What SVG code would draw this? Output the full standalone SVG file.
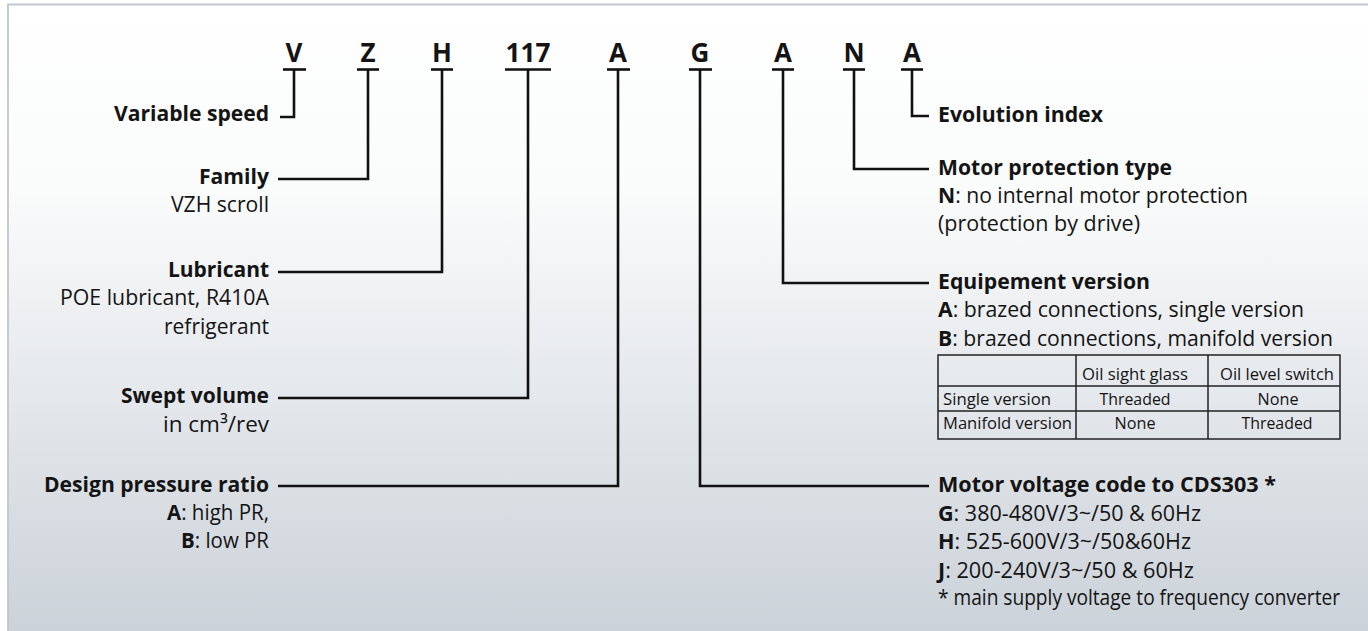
<svg xmlns="http://www.w3.org/2000/svg" width="1368" height="631" viewBox="0 0 1368 631">
<defs>
<linearGradient id="bg" x1="0" y1="0" x2="0" y2="1">
<stop offset="0" stop-color="#ffffff"/>
<stop offset="0.3" stop-color="#fafbfb"/>
<stop offset="0.62" stop-color="#e5e8ec"/>
<stop offset="1" stop-color="#cbd2d9"/>
</linearGradient>
<style>
text{font-family:"Open Sans","Noto Sans","Liberation Sans",sans-serif;fill:#141414}
.code{font-size:26px;font-weight:700;text-anchor:middle}
.lbl{font-size:22px;font-weight:700}
.txt{font-size:22px;font-weight:400}
.b{font-weight:700}
.tbl{font-size:17px;font-weight:400}
.r{text-anchor:end}
.m{text-anchor:middle}
.bar{stroke:#111;stroke-width:2.6}
.con{stroke:#111;stroke-width:2.6;fill:none}
.grid{stroke:#222;stroke-width:1.5;fill:none}
</style>
</defs>
<rect x="0" y="0" width="1368" height="631" fill="#ffffff"/>
<rect x="8" y="4" width="1360" height="627" fill="url(#bg)"/>
<path d="M8 631 V4.5 H1368" stroke="#c0c6ce" stroke-width="1.8" fill="none"/>

<g id="code-letters">
<g id="c-V"><text class="code" x="294" y="62">V</text><line class="bar" x1="283" y1="69.5" x2="306" y2="69.5"/></g>
<g id="c-Z"><text class="code" x="368" y="62">Z</text><line class="bar" x1="357" y1="69.5" x2="379" y2="69.5"/></g>
<g id="c-H"><text class="code" x="442" y="62">H</text><line class="bar" x1="431" y1="69.5" x2="453" y2="69.5"/></g>
<g id="c-117"><text class="code" x="528" y="62" textLength="45" lengthAdjust="spacingAndGlyphs">117</text><line class="bar" x1="505" y1="69.5" x2="551" y2="69.5"/></g>
<g id="c-A1"><text class="code" x="618" y="62">A</text><line class="bar" x1="607" y1="69.5" x2="630" y2="69.5"/></g>
<g id="c-G"><text class="code" x="700" y="62">G</text><line class="bar" x1="689" y1="69.5" x2="712" y2="69.5"/></g>
<g id="c-A2"><text class="code" x="783" y="62">A</text><line class="bar" x1="772" y1="69.5" x2="794" y2="69.5"/></g>
<g id="c-N"><text class="code" x="854" y="62">N</text><line class="bar" x1="843" y1="69.5" x2="865" y2="69.5"/></g>
<g id="c-A3"><text class="code" x="912" y="62">A</text><line class="bar" x1="901" y1="69.5" x2="923" y2="69.5"/></g>
</g>

<g id="connectors">
<path class="con" d="M294 69.5 V117 H280"/>
<path class="con" d="M368 69.5 V179 H278"/>
<path class="con" d="M442 69.5 V272 H278"/>
<path class="con" d="M528 69.5 V398 H278"/>
<path class="con" d="M618 69.5 V486 H278"/>
<path class="con" d="M912 69.5 V116 H929"/>
<path class="con" d="M854 69.5 V169 H929"/>
<path class="con" d="M783 69.5 V283 H929"/>
<path class="con" d="M700 69.5 V486 H929"/>
</g>

<g id="n-variable-speed">
<text class="lbl r" x="269" y="121" textLength="155" lengthAdjust="spacingAndGlyphs">Variable speed</text>
</g>
<g id="n-family">
<text class="lbl r" x="269" y="184" textLength="70" lengthAdjust="spacingAndGlyphs">Family</text>
<text class="txt r" x="269" y="212" textLength="98" lengthAdjust="spacingAndGlyphs">VZH scroll</text>
</g>
<g id="n-lubricant">
<text class="lbl r" x="269" y="277" textLength="101" lengthAdjust="spacingAndGlyphs">Lubricant</text>
<text class="txt r" x="269" y="305" textLength="209" lengthAdjust="spacingAndGlyphs">POE lubricant, R410A</text>
<text class="txt r" x="269" y="334" textLength="105" lengthAdjust="spacingAndGlyphs">refrigerant</text>
</g>
<g id="n-swept-volume">
<text class="lbl r" x="269" y="403" textLength="148" lengthAdjust="spacingAndGlyphs">Swept volume</text>
<text class="txt r" x="269" y="432" textLength="106" lengthAdjust="spacingAndGlyphs">in cm³/rev</text>
</g>
<g id="n-design-pressure">
<text class="lbl r" x="269" y="492" textLength="225" lengthAdjust="spacingAndGlyphs">Design pressure ratio</text>
<text class="txt r" x="269" y="520" textLength="102" lengthAdjust="spacingAndGlyphs"><tspan class="b">A</tspan>: high PR,</text>
<text class="txt r" x="269" y="548" textLength="88" lengthAdjust="spacingAndGlyphs"><tspan class="b">B</tspan>: low PR</text>
</g>

<g id="n-evolution">
<text class="lbl" x="938" y="122" textLength="165" lengthAdjust="spacingAndGlyphs">Evolution index</text>
</g>
<g id="n-motor-protection">
<text class="lbl" x="938" y="175" textLength="234" lengthAdjust="spacingAndGlyphs">Motor protection type</text>
<text class="txt" x="938" y="203" textLength="310" lengthAdjust="spacingAndGlyphs"><tspan class="b">N</tspan>: no internal motor protection</text>
<text class="txt" x="938" y="231" textLength="202" lengthAdjust="spacingAndGlyphs">(protection by drive)</text>
</g>
<g id="n-equipment">
<text class="lbl" x="938" y="289" textLength="212" lengthAdjust="spacingAndGlyphs">Equipement version</text>
<text class="txt" x="938" y="317" textLength="366" lengthAdjust="spacingAndGlyphs"><tspan class="b">A</tspan>: brazed connections, single version</text>
<text class="txt" x="938" y="346" textLength="395" lengthAdjust="spacingAndGlyphs"><tspan class="b">B</tspan>: brazed connections, manifold version</text>
<g id="equipment-table">
<rect class="grid" x="938" y="355" width="402" height="84"/>
<line class="grid" x1="938" y1="386" x2="1340" y2="386"/>
<line class="grid" x1="938" y1="411" x2="1340" y2="411"/>
<line class="grid" x1="1076" y1="355" x2="1076" y2="439"/>
<line class="grid" x1="1208" y1="355" x2="1208" y2="439"/>
<text class="tbl m" x="1135" y="380" textLength="106" lengthAdjust="spacingAndGlyphs">Oil sight glass</text>
<text class="tbl m" x="1277" y="380" textLength="114" lengthAdjust="spacingAndGlyphs">Oil level switch</text>
<text class="tbl" x="943" y="405" textLength="108" lengthAdjust="spacingAndGlyphs">Single version</text>
<text class="tbl m" x="1135" y="405" textLength="71" lengthAdjust="spacingAndGlyphs">Threaded</text>
<text class="tbl m" x="1278" y="405" textLength="41" lengthAdjust="spacingAndGlyphs">None</text>
<text class="tbl" x="943" y="429" textLength="129" lengthAdjust="spacingAndGlyphs">Manifold version</text>
<text class="tbl m" x="1135" y="429" textLength="41" lengthAdjust="spacingAndGlyphs">None</text>
<text class="tbl m" x="1277" y="429" textLength="71" lengthAdjust="spacingAndGlyphs">Threaded</text>
</g>
</g>
<g id="n-motor-voltage">
<text class="lbl" x="938" y="492" textLength="338" lengthAdjust="spacingAndGlyphs">Motor voltage code to CDS303 *</text>
<text class="txt" x="938" y="521" textLength="263" lengthAdjust="spacingAndGlyphs"><tspan class="b">G</tspan>: 380-480V/3~/50 &amp; 60Hz</text>
<text class="txt" x="938" y="549" textLength="253" lengthAdjust="spacingAndGlyphs"><tspan class="b">H</tspan>: 525-600V/3~/50&amp;60Hz</text>
<text class="txt" x="938" y="578" textLength="256" lengthAdjust="spacingAndGlyphs"><tspan class="b">J</tspan>: 200-240V/3~/50 &amp; 60Hz</text>
<text class="txt" x="938" y="605" textLength="402" lengthAdjust="spacingAndGlyphs">* main supply voltage to frequency converter</text>
</g>
</svg>
